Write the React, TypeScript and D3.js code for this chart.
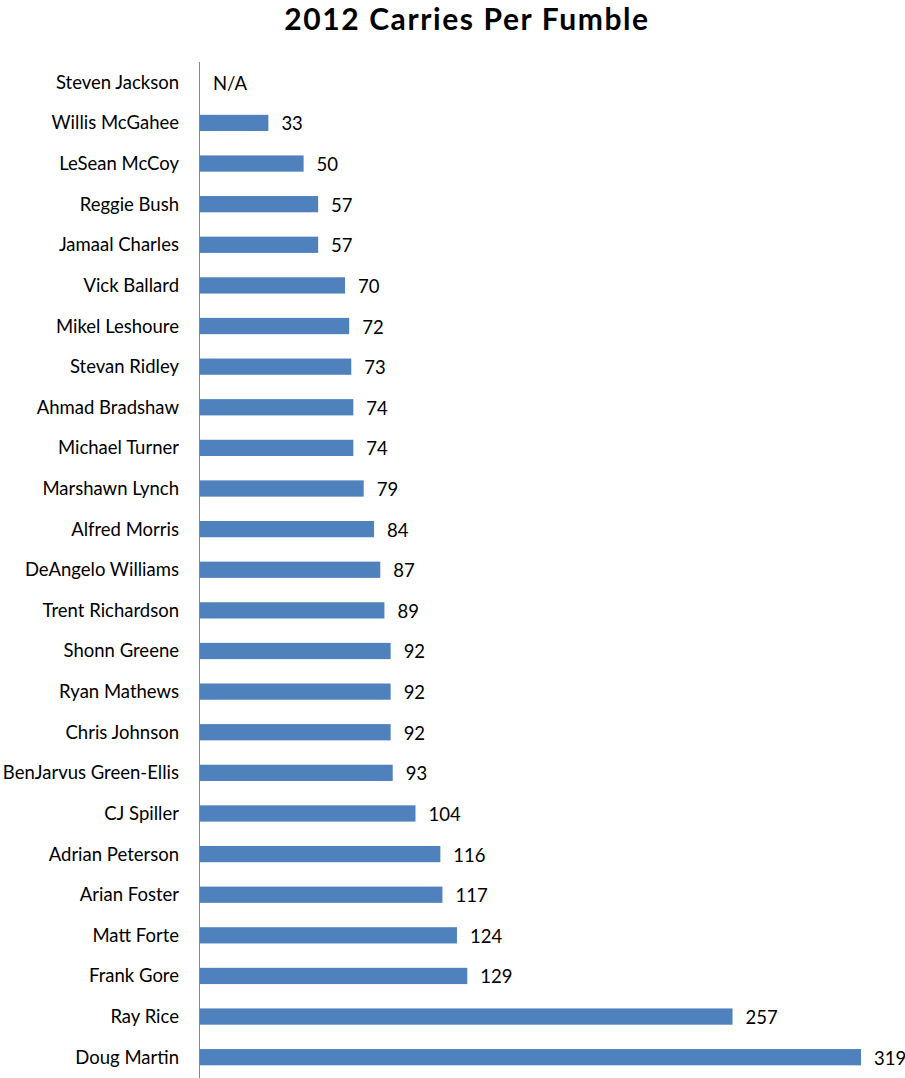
import { scaleBand, scaleLinear } from "d3";

const players = [
  "Steven Jackson",
  "Willis McGahee",
  "LeSean McCoy",
  "Reggie Bush",
  "Jamaal Charles",
  "Vick Ballard",
  "Mikel Leshoure",
  "Stevan Ridley",
  "Ahmad Bradshaw",
  "Michael Turner",
  "Marshawn Lynch",
  "Alfred Morris",
  "DeAngelo Williams",
  "Trent Richardson",
  "Shonn Greene",
  "Ryan Mathews",
  "Chris Johnson",
  "BenJarvus Green-Ellis",
  "CJ Spiller",
  "Adrian Peterson",
  "Arian Foster",
  "Matt Forte",
  "Frank Gore",
  "Ray Rice",
  "Doug Martin",
];

// null = no fumbles (N/A)
const carriesPerFumble: (number | null)[] = [
  null, 33, 50, 57, 57, 70, 72, 73, 74, 74, 79, 84, 87, 89, 92, 92, 92, 93,
  104, 116, 117, 124, 129, 257, 319,
];

const title = "2012 Carries Per Fumble";

export default function App() {
  const width = 905;
  const height = 1078;
  const font = "Lato, 'Open Sans', sans-serif";

  const xScale = scaleLinear().domain([0, 319]).range([200, 861]);
  const yScale = scaleBand<string>()
    .domain(players)
    .range([62, 1077.5])
    .paddingInner(0.6)
    .paddingOuter(0.3);

  const bw = yScale.bandwidth();

  return (
    <div style={{ position: "absolute", left: 0, top: 0 }}>
      <svg width={width} height={height} style={{ display: "block" }}>
        <rect width={width} height={height} fill="#fff" />
        <text
          x={467}
          y={30}
          textAnchor="middle"
          fontFamily={font}
          fontWeight="bold"
          fontSize={30}
          letterSpacing={1.6}
          fill="#000"
        >
          {title}
        </text>

        {players.map((p, i) => {
          const v = carriesPerFumble[i];
          const y = yScale(p) ?? 0;
          const cy = y + bw / 2;
          return (
            <g key={p}>
              <text
                x={179}
                y={cy}
                dy="0.35em"
                textAnchor="end"
                fontFamily={font}
                fontSize={18.5}
                fill="#000"
              >
                {p}
              </text>
              {v !== null && (
                <rect
                  x={xScale(0)}
                  y={y}
                  width={xScale(v) - xScale(0)}
                  height={bw}
                  fill="#4F81BD"
                />
              )}
              <text
                x={(v === null ? xScale(0) : xScale(v)) + 13}
                y={cy + 1}
                dy="0.35em"
                fontFamily={font}
                fontSize={18.5}
                fill="#000"
              >
                {v === null ? "N/A" : v}
              </text>
            </g>
          );
        })}

        <line
          x1={199.5}
          x2={199.5}
          y1={62}
          y2={height}
          stroke="#868686"
          strokeWidth={1}
        />
      </svg>
    </div>
  );
}
